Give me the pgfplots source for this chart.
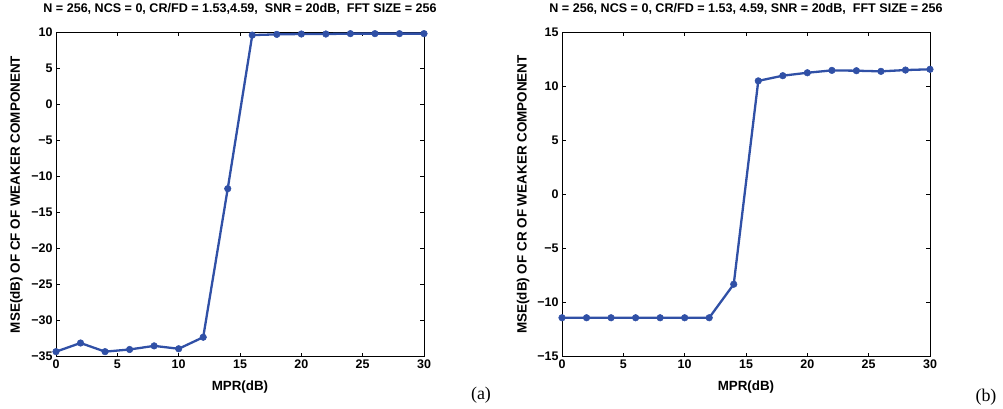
\documentclass[border=0pt]{standalone}
\usepackage{fontspec}
\setmainfont{Liberation Sans}
\newfontfamily\seriffont{Liberation Serif}
\usepackage{pgfplots}
\pgfplotsset{compat=1.18}
\definecolor{lc}{HTML}{3050A6}
\begin{document}
\begin{tikzpicture}[x=1bp,y=1bp]
\path[use as bounding box] (0bp,0bp) rectangle (1003bp,409bp);
\pgfplotsset{myax/.style={
  scale only axis, width=368bp, height=324.5bp, anchor=south west,
  xmin=0, xmax=30, xtick={0,5,...,30},
  tick align=inside, major tick length=4bp,
  ticklabel style={font=\fontsize{12.5}{12.5}\selectfont\bfseries},
  /pgf/number format/assume math mode=true,
  axis line style={line width=0.9bp},
  every tick/.style={black, line width=0.7bp},
  clip=false,
  xlabel={MPR(dB)},
  xlabel style={font=\fontsize{13.4}{13.4}\selectfont\bfseries, at={(axis description cs:0.5,-0.092)}, anchor=center},
  ylabel style={font=\fontsize{13.5}{13.5}\selectfont\bfseries, rotate=0, anchor=center},
  title style={font=\fontsize{12.6}{12.6}\selectfont\bfseries, at={(axis description cs:0.5,1.053)}, anchor=center},
},
myplot/.style={color=lc, line width=2.3bp, mark=*, mark size=3.3bp, mark options={fill=lc, draw=lc, line width=0.5bp, solid}}}
\begin{axis}[myax, at={(56bp,52.3bp)},
  ymin=-35, ymax=10, ytick={-35,-30,...,10},
  yticklabels={−35,−30,−25,−20,−15,−10,−5,0,5,10},
  ylabel={MSE(dB) OF CF OF WEAKER COMPONENT},
  ylabel style={at={(axis description cs:-0.1073,0.5)}},
  title={N = 256, NCS = 0, CR/FD = 1.53,4.59,\ \ SNR = 20dB,\ \ FFT SIZE = 256}]
\addplot[myplot] coordinates {(0,-34.3) (2,-33.1) (4,-34.3) (6,-34.0) (8,-33.5) (10,-33.9) (12,-32.3) (14,-11.7) (16,9.6) (18,9.7) (20,9.75) (22,9.75) (24,9.8) (26,9.8) (28,9.8) (30,9.8)};
\end{axis}
\begin{axis}[myax, at={(562bp,52.3bp)},
  ymin=-15, ymax=15, ytick={-15,-10,...,15},
  yticklabels={−15,−10,−5,0,5,10,15},
  ylabel={MSE(dB) OF CR OF WEAKER COMPONENT},
  ylabel style={at={(axis description cs:-0.1057,0.5)}},
  title={N = 256, NCS = 0, CR/FD = 1.53, 4.59, SNR = 20dB,\ \ FFT SIZE = 256}]
\addplot[myplot] coordinates {(0,-11.4) (2,-11.4) (4,-11.4) (6,-11.4) (8,-11.4) (10,-11.4) (12,-11.4) (14,-8.3) (16,10.5) (18,10.98) (20,11.25) (22,11.47) (24,11.44) (26,11.38) (28,11.5) (30,11.57)};
\end{axis}
\node[font=\seriffont\fontsize{18}{18}\selectfont] at (481bp,14bp) {(a)};
\node[font=\seriffont\fontsize{18}{18}\selectfont] at (986bp,12bp) {(b)};
\end{tikzpicture}
\end{document}
